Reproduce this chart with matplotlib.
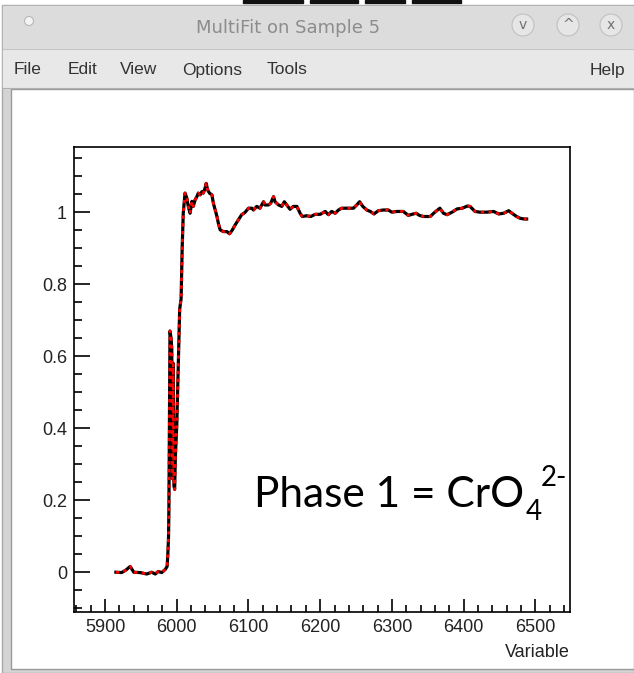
import matplotlib.pyplot as plt
from matplotlib.patches import Rectangle, Circle
from matplotlib.ticker import MultipleLocator, FuncFormatter

# Measured spectrum (energy in eV, normalised absorption)
energy = [5915, 5923, 5929, 5935, 5940, 5949, 5958, 5965, 5970, 5974, 5979, 5984,
          5986.5, 5987.5, 5988.5, 5989, 5990.5, 5992, 5993, 5994, 5995, 5996, 5997,
          5998, 6000, 6002, 6004, 6006, 6007.5, 6009, 6011.5, 6014, 6016, 6018.5,
          6021, 6023, 6025.5, 6028, 6030, 6032.5, 6035, 6037, 6039.5, 6041, 6043,
          6045.5, 6049, 6051, 6053.5, 6056, 6058, 6060.5, 6065, 6070, 6073.5, 6077,
          6081.5, 6086, 6090.5, 6095, 6100, 6104.5, 6107, 6111.5, 6116, 6121, 6123,
          6128, 6131, 6135, 6137, 6142, 6146.5, 6150, 6153.5, 6158, 6162.5, 6167.5,
          6172, 6175, 6181, 6187, 6193, 6200, 6207, 6211.5, 6216, 6221, 6225.5, 6230,
          6237, 6246.5, 6251, 6255, 6259.5, 6265, 6270, 6275, 6281, 6288, 6295, 6300,
          6307, 6316, 6323, 6328, 6334, 6338.5, 6344, 6353.5, 6360, 6367, 6372, 6377,
          6384, 6391, 6398, 6405.5, 6409, 6416, 6423, 6432.5, 6442, 6449, 6456, 6463,
          6467.5, 6474, 6479, 6484.5, 6488]
mu = [0.000, -0.001, 0.006, 0.016, 0.000, -0.001, -0.005, 0.000, -0.005, 0.002, -0.001, 0.008,
      0.016, 0.050, 0.100, 0.180, 0.670, 0.650, 0.620, 0.260, 0.580, 0.240, 0.230,
      0.320, 0.410, 0.570, 0.730, 0.760, 0.900, 0.997, 1.053, 1.039, 1.016, 0.997,
      1.030, 1.016, 1.034, 1.043, 1.053, 1.048, 1.057, 1.053, 1.067, 1.080, 1.062,
      1.053, 1.048, 1.025, 1.006, 0.988, 0.969, 0.951, 0.946, 0.946, 0.940, 0.949,
      0.965, 0.979, 0.993, 0.999, 1.011, 1.011, 1.006, 1.016, 1.011, 1.029, 1.020,
      1.020, 1.025, 1.043, 1.029, 1.020, 1.016, 1.029, 1.020, 1.008, 1.016, 1.016,
      0.997, 0.988, 0.990, 0.988, 0.994, 0.994, 1.002, 0.993, 1.002, 0.997, 1.006, 1.011,
      1.011, 1.011, 1.020, 1.029, 1.016, 1.006, 1.002, 0.995, 1.004, 1.006, 1.006, 1.000,
      1.002, 1.002, 0.991, 0.994, 0.997, 0.991, 0.988, 0.988, 1.000, 1.011, 0.997, 0.993,
      1.000, 1.009, 1.011, 1.017, 1.016, 1.002, 1.000, 1.000, 1.002, 0.995, 0.997, 1.004,
      0.997, 0.988, 0.983, 0.981, 0.981]
# Single-phase fit follows the data
fit = mu

W, H = 634, 673
fig = plt.figure(figsize=(W / 100, H / 100), dpi=100)

# ---- window decoration, drawn in pixel units ----
bg = fig.add_axes([0, 0, 1, 1], zorder=0)
bg.set_xlim(0, W)
bg.set_ylim(H, 0)
bg.axis('off')

bg.add_patch(Rectangle((0, 0), W, H, color='white'))
for x0, w in [(243, 60), (310, 48), (365, 40), (412, 49)]:
    bg.add_patch(Rectangle((x0, 0), w, 3, color='#111111'))
bg.add_patch(Rectangle((2, 5), W - 2, H - 5, facecolor='#d4d4d4', edgecolor='#a8a8a8', lw=1))
bg.add_patch(Rectangle((3, 6), W - 4, 43, color='#dcdcdc'))
bg.add_patch(Rectangle((3, 49), W - 4, 39, color='#e8e8e8'))
bg.plot([3, W], [49, 49], color='#c4c4c4', lw=0.8)
bg.plot([3, W], [88, 88], color='#b0b0b0', lw=0.8)
bg.add_patch(Rectangle((11, 89), W - 11, 580, facecolor='white', edgecolor='#9a9a9a', lw=1))

bg.add_patch(Circle((29, 21), 4.5, facecolor='#f4f4f4', edgecolor='#b8b8b8', lw=0.8))
bg.text(288, 28, 'MultiFit on Sample 5', ha='center', va='center',
        fontsize=13, color='#8c8c8c', family='DejaVu Sans')
for cx, glyph in [(523, 'v'), (568, '^'), (611, 'x')]:
    bg.add_patch(Circle((cx, 25), 11, facecolor='#e6e6e6', edgecolor='#c0c0c0', lw=0.8))
    bg.text(cx, 25, glyph, ha='center', va='center', fontsize=10,
            color='#707070', family='DejaVu Sans')

for label, x0 in [('File', 14), ('Edit', 68), ('View', 120), ('Options', 182), ('Tools', 267)]:
    bg.text(x0, 70, label, ha='left', va='center', fontsize=12.5,
            color='#333333', family='Liberation Sans')
bg.text(625, 70, 'Help', ha='right', va='center', fontsize=12.5,
        color='#333333', family='Liberation Sans')

# ---- spectrum plot ----
ax = fig.add_axes([74 / W, 1 - 612 / H, 496 / W, 465 / H], zorder=1)
ax.set_facecolor('white')
ax.plot(energy, mu, color='black', lw=2.3)
ax.plot(energy, fit, color='red', lw=2.0, dashes=(1.2, 1.6))

ax.set_xlim(5856.6, 6548.5)
ax.set_ylim(-0.1105, 1.181)
ax.xaxis.set_major_locator(MultipleLocator(100))
ax.xaxis.set_minor_locator(MultipleLocator(20))
ax.yaxis.set_major_locator(MultipleLocator(0.2))
ax.yaxis.set_minor_locator(MultipleLocator(0.05))
ax.yaxis.set_major_formatter(FuncFormatter(lambda v, p: '%g' % round(v, 2)))

for s in ax.spines.values():
    s.set_linewidth(1.2)
ax.tick_params(axis='both', which='both', direction='in', top=False, right=False,
               width=1.2, labelsize=13, labelcolor='#222222')
ax.tick_params(axis='x', which='major', length=9.5, pad=5)
ax.tick_params(axis='x', which='minor', length=5)
ax.tick_params(axis='y', which='major', length=11.5, pad=5)
ax.tick_params(axis='y', which='minor', length=6)
for lab in ax.get_xticklabels() + ax.get_yticklabels():
    lab.set_family('Liberation Sans')

ax.set_xlabel('Variable', fontsize=13, family='Liberation Sans', color='#222222',
              loc='right', labelpad=6)

# ---- phase annotation, on a transparent layer above the plot ----
top = fig.add_axes([0, 0, 1, 1], zorder=2)
top.set_xlim(0, W)
top.set_ylim(H, 0)
top.patch.set_alpha(0)
top.axis('off')
top.text(254, 507, 'Phase 1 = CrO', ha='left', va='baseline', fontsize=30.5, family='Lato')
top.text(526, 520, '4', ha='left', va='baseline', fontsize=20, family='Lato')
top.text(541, 486, '2-', ha='left', va='baseline', fontsize=20, family='Lato')

fig.savefig('out.png', dpi=100)
